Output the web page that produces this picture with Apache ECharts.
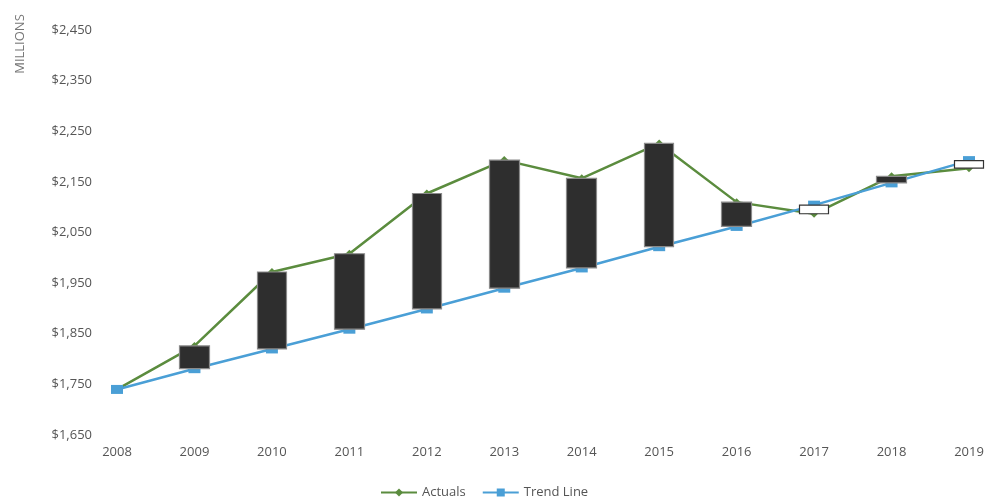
<!DOCTYPE html>
<html>
<head>
<meta charset="utf-8">
<script src="https://cdn.jsdelivr.net/npm/echarts@6/dist/echarts.min.js"></script>
<style>html,body{margin:0;padding:0;background:#fff;}#chart{width:993px;height:502px;}</style>
</head>
<body>
<div id="chart"></div>
<script>
var years = ['2008','2009','2010','2011','2012','2013','2014','2015','2016','2017','2018','2019'];
var actuals = [1740, 1826, 1972, 2008, 2127, 2193, 2157, 2226, 2110, 2087, 2161, 2177];
var trend = [1740, 1781, 1820, 1859, 1899, 1940, 1980, 2022, 2062, 2104, 2148, 2192];
var yTicks = {min: 1650, max: 2450, step: 100};

var bars = years.map(function (y, i) {
  var o = trend[i], c = actuals[i];
  if (o === c) return '-';
  return [o, c, Math.min(o, c), Math.max(o, c)];
});

var chart = echarts.init(document.getElementById('chart'), null, {renderer: 'canvas'});
chart.setOption({
  animation: false,
  backgroundColor: '#ffffff',
  textStyle: {fontFamily: 'Open Sans'},
  grid: {left: 117, right: 24, top: 30, bottom: 67},
  graphic: [{
    type: 'text',
    rotation: Math.PI / 2,
    x: 20, y: 44,
    style: {text: 'MILLIONS', fill: '#777', font: '13px "Open Sans"', align: 'center', verticalAlign: 'middle'}
  }],
  legend: {
    data: ['Actuals', 'Trend Line'],
    top: 481,
    left: 375,
    itemWidth: 36,
    itemHeight: 10,
    itemGap: 16,
    textStyle: {color: '#555', fontSize: 13, fontFamily: 'Open Sans'}
  },
  xAxis: {
    type: 'category',
    data: years,
    boundaryGap: false,
    axisLine: {show: false},
    axisTick: {show: false},
    axisLabel: {color: '#555', fontSize: 13, margin: 11, fontFamily: 'Open Sans'},
    splitLine: {show: false}
  },
  yAxis: {
    type: 'value',
    min: yTicks.min,
    max: yTicks.max,
    interval: yTicks.step,
    axisLine: {show: false},
    axisTick: {show: false},
    splitLine: {show: false},
    axisLabel: {
      color: '#555', fontSize: 13, margin: 25, fontFamily: 'Open Sans',
      formatter: function (v) { return '$' + v.toLocaleString('en-US'); }
    }
  },
  series: [
    {
      name: 'Actuals',
      type: 'line',
      data: actuals,
      symbol: 'diamond',
      symbolSize: 8,
      lineStyle: {color: '#5b8c3e', width: 2.5},
      itemStyle: {color: '#5b8c3e'},
      z: 2
    },
    {
      name: 'Trend Line',
      type: 'line',
      data: trend,
      symbol: 'rect',
      symbolSize: [12, 9],
      lineStyle: {color: '#4a9fd6', width: 2.5},
      itemStyle: {color: '#4a9fd6'},
      z: 3
    },
    {
      name: 'UpDown',
      type: 'candlestick',
      data: bars,
      barWidth: 30,
      itemStyle: {
        color: '#2e2e2e',
        color0: '#ffffff',
        borderColor: '#8a8a8a',
        borderColor0: '#333333',
        borderWidth: 1.2
      },
      z: 4
    }
  ]
});
</script>
</body>
</html>
